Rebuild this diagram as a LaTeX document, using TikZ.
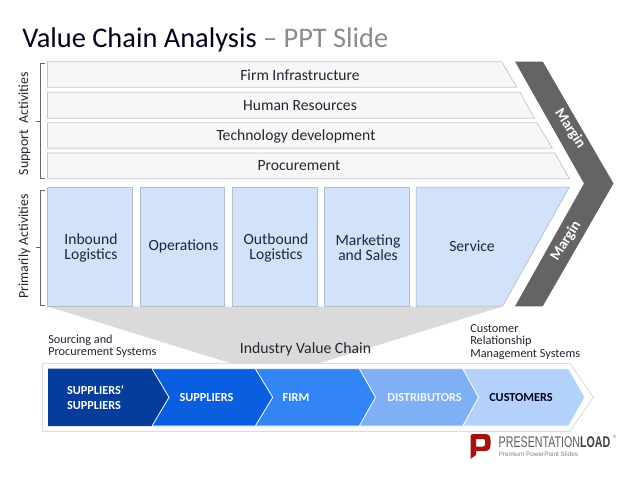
\documentclass[tikz,border=0pt]{standalone}
\usepackage{fontspec}
\setmainfont{Carlito}
\newfontfamily\logofont{Liberation Sans}
\definecolor{ink}{HTML}{1F2733}
\definecolor{barfill}{HTML}{F7F7F7}
\definecolor{barline}{HTML}{C8C8C8}
\definecolor{boxfill}{HTML}{D2E2FA}
\definecolor{boxline}{HTML}{B4BCC8}
\definecolor{margingrey}{HTML}{646464}
\definecolor{funnel}{HTML}{DADADA}
\definecolor{frameline}{HTML}{DDDDDD}
\definecolor{chA}{HTML}{063C9C}
\definecolor{chB}{HTML}{0A5EE0}
\definecolor{chC}{HTML}{3385F5}
\definecolor{chD}{HTML}{7FB0F5}
\definecolor{chE}{HTML}{B3D1FA}
\definecolor{logored}{HTML}{A81010}
\tikzset{
  x=0.75pt,y=-0.75pt,
  lab/.style={font=\fontsize{11.7pt}{11.6pt}\selectfont,text=ink,align=center,inner sep=0},
  small/.style={font=\fontsize{9.2pt}{9.1pt}\selectfont,text=ink,align=left,inner sep=0,anchor=west},
  side/.style={font=\fontsize{10.4pt}{10pt}\selectfont,text=ink,rotate=90,inner sep=0},
  bar/.style={draw=barline,fill=barfill,line width=0.6pt},
  pbox/.style={draw=boxline,fill=boxfill,line width=0.5pt},
  brk/.style={draw=gray!80!black,line width=0.5pt},
  chev/.style={draw=white,line width=0.6pt},
  chevlab/.style={font=\fontsize{9.2pt}{11.4pt}\selectfont\bfseries,text=white,align=left,inner sep=0},
  marg/.style={font=\fontsize{11.2pt}{11pt}\selectfont\bfseries,text=white,inner sep=0}
}
\begin{document}
\begin{tikzpicture}
\useasboundingbox (0,0) rectangle (638,479);
\fill[white] (0,0) rectangle (638,479);
\node[anchor=west,inner sep=0,font=\fontsize{21.3pt}{24pt}\selectfont,text=black!90!blue] (title) at (22,40) {Value Chain Analysis \textcolor{gray!90}{– PPT Slide}};
% funnel
\fill[funnel] (47.5,306.5) -- (502.5,306.5) -- (320,363) -- (230,363) -- cycle;
% support bars
\draw[bar] (47.5,61.7) -- (501.7,61.7) -- (516.7,87.3) -- (47.5,87.3) -- cycle;
\draw[bar] (47.5,92.3) -- (520,92.3) -- (534.5,118.3) -- (47.5,118.3) -- cycle;
\draw[bar] (47.5,122.7) -- (537,122.7) -- (552.3,148.3) -- (47.5,148.3) -- cycle;
\draw[bar] (47.5,153) -- (555,153) -- (569.3,178.7) -- (47.5,178.7) -- cycle;
\node[lab] (firm) at (300,75.5) {Firm Infrastructure};
\node[lab] (hr) at (300,105.5) {Human Resources};
\node[lab] (tech) at (296,136) {Technology development};
\node[lab] (proc) at (299,165.5) {Procurement};
% primary boxes
\draw[pbox] (47.5,187.3) rectangle (132.5,306.3);
\draw[pbox] (140.3,187.3) rectangle (224.5,306.3);
\draw[pbox] (232.3,187.3) rectangle (317.5,306.3);
\draw[pbox] (324.3,187.3) rectangle (409.5,306.3);
\draw[pbox] (416.3,187.3) -- (569.3,187.3) -- (502.5,306.3) -- (416.3,306.3) -- cycle;
\node[lab] (inb) at (91,248) {Inbound\\Logistics};
\node[lab] (ops) at (183.5,246.5) {Operations};
\node[lab] (outb) at (276,248) {Outbound\\Logistics};
\node[lab] (mkt) at (368,247.5) {Marketing\\and Sales};
\node[lab] (svc) at (472,246.5) {Service};
% margin chevron
\fill[margingrey] (515,61.5) -- (542.7,61.5) -- (613.5,183.5) -- (542.7,306.3) -- (515,306.3) -- (584,183.5) -- cycle;
\node[marg,rotate=-57] (m1) at (570,128.5) {Margin};
\node[marg,rotate=58] (m2) at (566,241) {Margin};
% side labels
\node[side] (sup) at (24.5,123.5) {Support\hspace{0.5em}Activities};
\node[side] (pri) at (24.5,246.5) {Primarily Activities};
\draw[brk] (45,63.3) -- (40.5,63.3) -- (40.5,178) -- (45,178);
\draw[brk] (40.5,121) -- (35.5,121);
\draw[brk] (45,190) -- (40.5,190) -- (40.5,305.7) -- (45,305.7);
\draw[brk] (40.5,247) -- (35.5,247);
% captions
\node[small] (src) at (48,346) {Sourcing and\\Procurement Systems};
\node[anchor=center,inner sep=0,font=\fontsize{11.8pt}{12pt}\selectfont,text=ink] (ivc) at (305.5,349.5) {Industry Value Chain};
\node[small] (crm) at (470,342) {Customer\\Relationship\\Management Systems};
% chain
\draw[frameline,fill=white,line width=0.7pt] (42.3,363.3) -- (570,363.3) -- (593.3,397.3) -- (570,431.3) -- (42.3,431.3) -- cycle;
\draw[chev,fill=chE] (460,368.7) -- (568.7,368.7) -- (585,397.3) -- (568.7,426) -- (460,426) -- cycle;
\draw[chev,fill=chD] (357,368.7) -- (462.7,368.7) -- (478.5,397.3) -- (462.7,426) -- (357,426) -- cycle;
\draw[chev,fill=chC] (253,368.7) -- (359.3,368.7) -- (375.5,397.3) -- (359.3,426) -- (253,426) -- cycle;
\draw[chev,fill=chB] (150,368.7) -- (255.3,368.7) -- (272.7,397.3) -- (255.3,426) -- (150,426) -- cycle;
\fill[chA] (48,368.7) -- (152,368.7) -- (169,397.3) -- (152,426) -- (48,426) -- cycle;
\draw[chev] (152,368.7) -- (169,397.3) -- (152,426);
\node[chevlab] (c1) at (95.5,397.5) {SUPPLIERS‘\\SUPPLIERS};
\node[chevlab] (c2) at (206.5,397.5) {SUPPLIERS};
\node[chevlab] (c3) at (296,397.5) {FIRM};
\node[chevlab,text=white!90!chD] (c4) at (424.5,397.5) {DISTRIBUTORS};
\node[chevlab,text=black!90!blue] (c5) at (521,397.5) {CUSTOMERS};
% logo
\fill[logored,even odd rule] (473,434) -- (485,434) .. controls (489,434) and (490.5,436.5) .. (490.5,440) -- (490.5,445) .. controls (490.5,449) and (488.5,451) .. (485,451) -- (476,451) -- (476,455) -- (470.5,459) -- (470.5,436.5) .. controls (470.5,435) and (471.5,434) .. (473,434) -- cycle (476,439) -- (476,446.5) -- (483,446.5) .. controls (485,446.5) and (485,445) .. (485,444) -- (485,441) .. controls (485,440) and (485,439) .. (483,439) -- cycle;
\node[anchor=west,inner sep=0,text=gray!75!black,font=\logofont\fontsize{11.6pt}{13pt}\selectfont,xscale=0.69] (logo) at (498.5,441.8) {PRESENTATION\textcolor{gray!50!black}{\textbf{LOAD}}};
\node[anchor=west,inner sep=0,text=gray,font=\logofont\fontsize{3.5pt}{4pt}\selectfont] (reg) at (612.5,436.5) {®};
\node[anchor=west,inner sep=0,text=gray,font=\logofont\fontsize{4.8pt}{6pt}\selectfont] (tag) at (498.5,454) {Premium PowerPoint Slides};
\end{tikzpicture}
\end{document}
